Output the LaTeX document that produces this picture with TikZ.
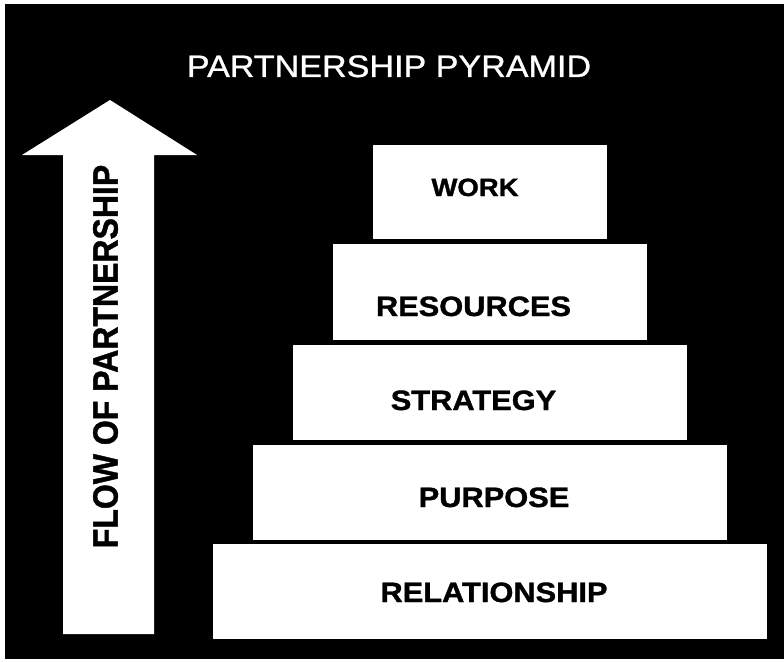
\documentclass[tikz,border=0pt]{standalone}
\usepackage{fontspec}
\setmainfont{Liberation Sans}
\newfontfamily\heavyfont[FakeBold=1.2]{Liberation Sans Bold}
\newfontfamily\titlefont[FakeBold=0.8]{Liberation Sans}
\begin{document}
\begin{tikzpicture}[x=1pt,y=-1pt,
  tier/.style={fill=white, draw=none, inner sep=0pt},
  tierlabel/.style={anchor=base, inner sep=0pt, text=black, font=\fontsize{28}{28}\heavyfont}]
\useasboundingbox (0,0) rectangle (784,661);
\fill[white] (0,0) rectangle (784,661);
\fill[black] (5,4) rectangle (784,659);
% arrow
\fill[white] (63,634) -- (63,155) -- (22,155) -- (110,100) -- (197,155) -- (154,155) -- (154,634) -- cycle;
\node[inner sep=0pt, text=black] (flow) at (105.5,356.5)
  {\scalebox{1.1}[1]{\rotatebox{90}{\fontsize{32}{32}\heavyfont FLOW OF PARTNERSHIP}}};
% title
\node[anchor=base, inner sep=0pt, text=white] (title) at (389,77)
  {\fontsize{31}{31}\titlefont\scalebox{1.1}[1]{PARTNERSHIP PYRAMID}};
% tiers
\node[tier, minimum width=234pt, minimum height=94pt] (work) at (490,192) {};
\node[tier, minimum width=314pt, minimum height=96pt] (resources) at (490,292) {};
\node[tier, minimum width=394pt, minimum height=95pt] (strategy) at (490,392.5) {};
\node[tier, minimum width=474pt, minimum height=95pt] (purpose) at (490,492.5) {};
\node[tier, minimum width=554pt, minimum height=95pt] (relationship) at (490,591.5) {};
% labels
\node[tierlabel, font=\fontsize{25}{25}\heavyfont] (tWork) at (475,196) {\scalebox{1.1}[1]{WORK}};
\node[tierlabel] (tRes) at (473.5,316) {\scalebox{1.1}[1]{RESOURCES}};
\node[tierlabel] (tStr) at (473.5,410) {\scalebox{1.1}[1]{STRATEGY}};
\node[tierlabel] (tPur) at (494,507) {\scalebox{1.1}[1]{PURPOSE}};
\node[tierlabel] (tRel) at (494,602) {\scalebox{1.1}[1]{RELATIONSHIP}};
\end{tikzpicture}
\end{document}
